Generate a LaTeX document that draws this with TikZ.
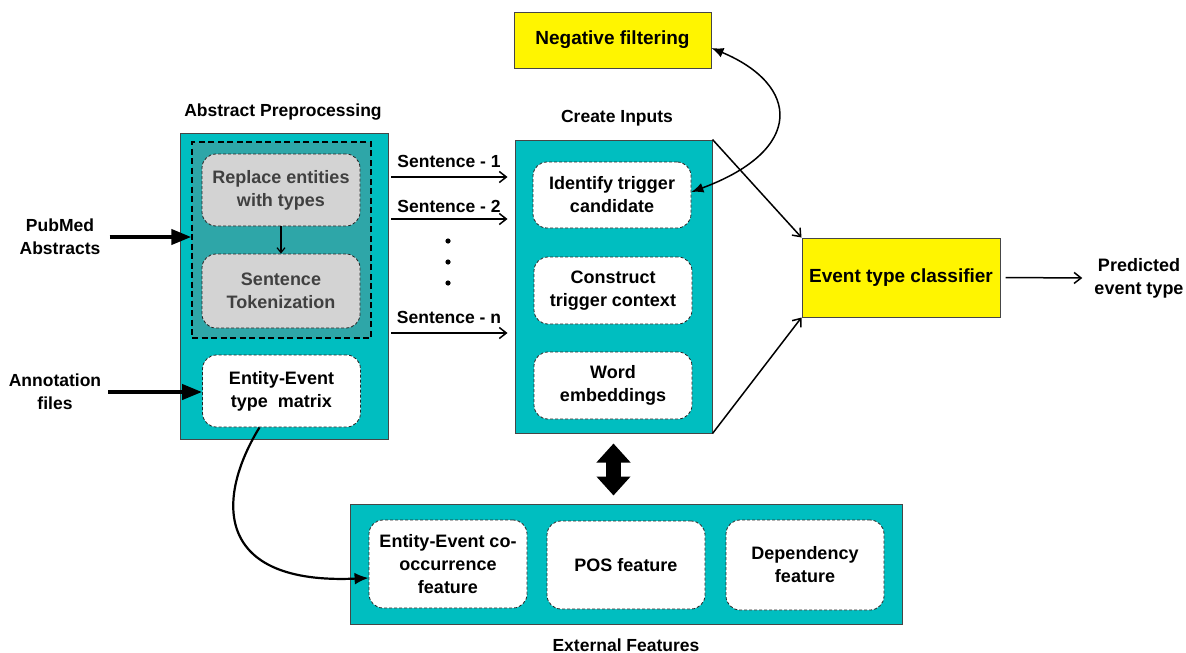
\documentclass[tikz,border=0pt]{standalone}
\usepackage{fontspec}
\setmainfont{Liberation Sans}
\usetikzlibrary{arrows.meta}

\definecolor{tealbox}{RGB}{0,190,192}
\definecolor{tealdark}{RGB}{46,166,168}
\definecolor{greyfill}{RGB}{211,211,211}
\definecolor{greytext}{RGB}{64,64,64}
\definecolor{boxline}{RGB}{70,70,70}
\definecolor{yellowbox}{RGB}{255,245,0}

\begin{document}
\begin{tikzpicture}[x=1pt, y=-1pt,
  every node/.style={font=\bfseries\fontsize{18}{23}\selectfont, align=center},
  outerbox/.style={draw=boxline, fill=tealbox, line width=1pt},
  groupbox/.style={draw=black, fill=tealdark, line width=1.4pt, dash pattern=on 6pt off 3.5pt},
  featbox/.style={draw=black!85, fill=white, line width=0.8pt, dash pattern=on 3pt off 2pt,
    rounded corners=14pt, minimum width=158pt, minimum height=72pt, inner sep=2pt},
  greybox/.style={featbox, fill=greyfill, text=greytext},
  yellowbox/.style={draw=boxline, fill=yellowbox, line width=1pt, font=\bfseries\fontsize{19}{23}\selectfont},
  heading/.style={font=\bfseries\fontsize{17.5}{23}\selectfont, inner sep=2pt},
  thinarrow/.style={-{Straight Barb[length=7pt,width=11pt]}, line width=1.5pt},
  thickarrow/.style={-{Triangle[length=20pt,width=15pt]}, line width=4pt},
  blockarrow/.style={{Triangle[length=19pt,width=33pt]}-{Triangle[length=19pt,width=33pt]}, line width=15pt}]
\useasboundingbox (0,0) rectangle (1186,653);

% abstract preprocessing
\node[outerbox, minimum width=208pt, minimum height=306pt] (prep) at (284,286) {};
\node[groupbox, minimum width=179pt, minimum height=196pt] (prepgroup) at (281.5,240) {};
\node[greybox] (replace) at (281,190) {Replace entities\\with types};
\node[greybox, minimum height=74pt] (tokenize) at (281,291) {Sentence\\Tokenization};
\node[featbox] (typematrix) at (281.5,391) {Entity-Event\\type~~matrix};
\node[heading] (preplabel) at (283,112) {Abstract Preprocessing};
\node[heading] (pubmed) at (60,237) {PubMed\\Abstracts};
\node[heading] (annot) at (55,392) {Annotation\\files};

% create inputs
\node[outerbox, minimum width=197pt, minimum height=293pt] (inputs) at (613.5,286.5) {};
\node[heading] (inputslabel) at (617,118) {Create Inputs};
\node[featbox, minimum height=66pt] (identify) at (612,195) {Identify trigger\\candidate};
\node[featbox, minimum height=67pt] (construct) at (613,290.5) {Construct\\trigger context};
\node[featbox, minimum height=67pt] (embed) at (613,385.5) {Word\\embeddings};

% sentences
\node[heading] (sent1) at (449,161) {Sentence - 1};
\node[heading] (sent2) at (449,206) {Sentence - 2};
\node[heading] (sentn) at (449,317) {Sentence - n};
\coordinate (s1) at (391,177);
\coordinate (s2) at (391,219);
\coordinate (sn) at (391,333);
\foreach \y in {241,262,283} \fill (448,\y) circle (2.6pt);

% classifier side
\node[yellowbox, minimum width=197pt, minimum height=56pt] (negative) at (612.5,40) {Negative filtering};
\node[yellowbox, minimum width=198pt, minimum height=79pt] (classifier) at (901,277.5) {Event type classifier};
\node[heading, font=\bfseries\fontsize{18}{23}\selectfont] (predicted) at (1139,278) {Predicted\\event type};

% external features
\node[outerbox, minimum width=552pt, minimum height=120pt] (external) at (626,564) {};
\node[featbox, minimum height=88pt] (cooc) at (448,564) {Entity-Event co-\\occurrence\\feature};
\node[featbox, minimum height=88pt] (pos) at (626,565) {POS feature};
\node[featbox, minimum height=90pt] (dep) at (805,565) {Dependency\\feature};
\node[heading] (extlabel) at (626,645) {External Features};

\draw[thickarrow] ([xshift=7pt]pubmed.east) -- (prepgroup.west |- pubmed.east);
\draw[thickarrow] ([xshift=5pt]annot.east) -- (annot.east -| typematrix.west);
\draw[-{Straight Barb[length=5pt,width=8pt]}, line width=1.2pt] (replace) -- (tokenize);
\draw[thinarrow, shorten >=7pt] (s1) -- (s1 -| inputs.west);
\draw[thinarrow, shorten >=7pt] (s2) -- (s2 -| inputs.west);
\draw[thinarrow, shorten >=7pt] (sn) -- (sn -| inputs.west);
\draw[{Latex[length=12pt,width=10pt]}-{Latex[length=12pt,width=10pt]}, line width=1.5pt]
  ([yshift=-8pt]negative.east) .. controls (800,85) and (805,150) .. ([yshift=3pt]identify.east);
\draw[thinarrow] (inputs.north east) -- (classifier.north west);
\draw[thinarrow] (inputs.south east) -- (classifier.south west);
\draw[thinarrow] ([xshift=5pt]classifier.east) -- ([xshift=-10pt]predicted.west);
\draw[blockarrow] ([yshift=-10pt]inputs.south) -- ([yshift=8pt]inputs.south |- external.north);
\draw[-{Latex[length=14pt,width=12pt]}, line width=2.2pt]
  ([xshift=-22pt]typematrix.south) .. controls (215,500) and (215,585) .. ([yshift=-14pt]cooc.west);
\end{tikzpicture}
\end{document}
